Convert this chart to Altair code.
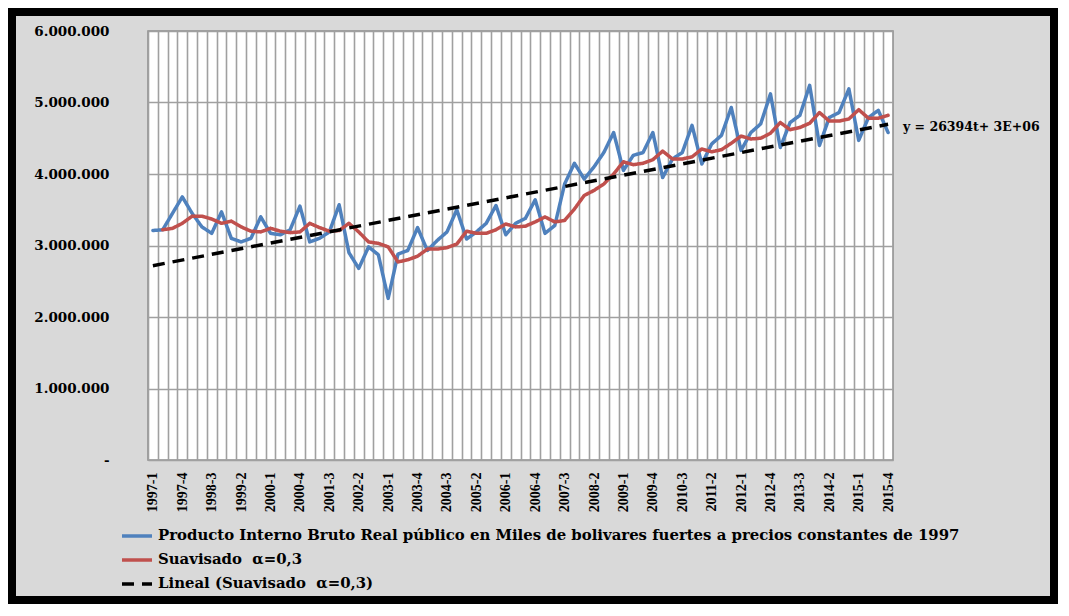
import json
import altair as alt
import pandas as pd

# ---------------- data (values in millions) ----------------
tick_labels = ["1997-1", "1997-4", "1998-3", "1999-2", "2000-1", "2000-4", "2001-3",
               "2002-2", "2003-1", "2003-4", "2004-3", "2005-2", "2006-1", "2006-4",
               "2007-3", "2008-2", "2009-1", "2009-4", "2010-3", "2011-2", "2012-1",
               "2012-4", "2013-3", "2014-2", "2015-1", "2015-4"]

pib = [3.21, 3.22, 3.45, 3.68, 3.45, 3.26, 3.17, 3.47, 3.10, 3.05,
       3.10, 3.40, 3.17, 3.15, 3.22, 3.55, 3.05, 3.10, 3.19, 3.57,
       2.90, 2.68, 2.98, 2.87, 2.26, 2.88, 2.93, 3.25, 2.93, 3.07,
       3.19, 3.50, 3.09, 3.19, 3.31, 3.56, 3.15, 3.31, 3.38, 3.64,
       3.17, 3.28, 3.86, 4.15, 3.93, 4.10, 4.30, 4.58, 4.05, 4.26,
       4.30, 4.58, 3.95, 4.21, 4.30, 4.68, 4.14, 4.42, 4.54, 4.93,
       4.33, 4.58, 4.70, 5.12, 4.37, 4.72, 4.82, 5.24, 4.40, 4.79,
       4.86, 5.19, 4.47, 4.79, 4.89, 4.58]

suavisado = [None, 3.22, 3.24, 3.31, 3.41, 3.41, 3.37, 3.31, 3.34, 3.26,
             3.20, 3.19, 3.24, 3.20, 3.18, 3.19, 3.31, 3.25, 3.20, 3.21,
             3.31, 3.19, 3.05, 3.03, 2.98, 2.77, 2.80, 2.85, 2.95, 2.95,
             2.97, 3.02, 3.20, 3.17, 3.17, 3.22, 3.30, 3.26, 3.27, 3.33,
             3.40, 3.33, 3.35, 3.51, 3.70, 3.77, 3.86, 4.00, 4.17, 4.13,
             4.15, 4.20, 4.32, 4.21, 4.21, 4.24, 4.35, 4.31, 4.34, 4.43,
             4.53, 4.49, 4.50, 4.57, 4.72, 4.62, 4.65, 4.71, 4.86, 4.74,
             4.74, 4.77, 4.90, 4.78, 4.78, 4.82]

NBSP = "\u00a0"
series_names = [
    "Producto Interno Bruto Real público en Miles de bolivares fuertes a precios constantes de 1997",
    "Suavisado" + NBSP + NBSP + "α=0,3",
    "Lineal (Suavisado" + NBSP + NBSP + "α=0,3)",
]
series_colors = ["#4f81bd", "#c0504d", "#000000"]
series_dashes = [[1, 0], [1, 0], [12, 8]]
trend_label = "y = 26394t+ 3E+06"
y_ticks = [0, 1000000, 2000000, 3000000, 4000000, 5000000, 6000000]

MILLION = 1_000_000
rows = []
for i, v in enumerate(pib):
    rows.append({"i": i, "valor": v * MILLION, "serie": series_names[0]})
for i, v in enumerate(suavisado):
    if v is not None:
        rows.append({"i": i, "valor": v * MILLION, "serie": series_names[1]})
long_df = pd.DataFrame(rows)
wide_df = pd.DataFrame({"i": list(range(len(suavisado))),
                        "suav": [v * MILLION if v is not None else None for v in suavisado]})
one_row = pd.DataFrame({"a": [0]})

n = len(pib)
FONT = "DejaVu Serif"
GRID = "#a0a0a0"

label_arr = json.dumps(tick_labels)
x_axis = alt.Axis(
    values=[k - 0.5 for k in range(n)],
    grid=True, gridColor=GRID, gridWidth=1.6,
    ticks=False, domain=False, title=None,
    labelExpr=f"(datum.value + 0.5) % 3 == 0 ? {label_arr}[(datum.value + 0.5) / 3] : ''",
    labelAngle=-90, labelOffset=4.9, labelPadding=12,
    labelOverlap=False, labelFlush=False, labelBound=False,
    labelFont="Liberation Serif", labelFontWeight="bold", labelFontSize=14,
    labelColor="black",
)
zero_label = "-" + "\u2007" * 2
y_axis = alt.Axis(
    values=y_ticks,
    grid=True, gridColor=GRID, gridWidth=1.6,
    ticks=False, domain=False, title=None,
    labelExpr=("datum.value == 0 ? " + json.dumps(zero_label, ensure_ascii=False) +
               " : replace(replace(format(datum.value, ','), ',', '.'), ',', '.')"),
    labelPadding=39, labelFont=FONT, labelFontWeight="bold", labelFontSize=13.5,
    labelColor="black",
)
x_enc = alt.X("i:Q", scale=alt.Scale(domain=[-0.5, n - 0.5], nice=False, zero=False), axis=x_axis)
y_scale = alt.Scale(domain=[0, 6 * MILLION], nice=False)

legend = alt.Legend(
    title=None, orient="none", legendX=-28, legendY=488, direction="vertical",
    symbolType="stroke", symbolSize=900, symbolStrokeWidth=3.5,
    labelFont=FONT, labelFontWeight="bold", labelFontSize=14.9, labelColor="black",
    labelLimit=1000, rowPadding=-3, labelOffset=4, padding=0,
)
color_enc = alt.Color("serie:N", scale=alt.Scale(domain=series_names, range=series_colors), legend=legend)
dash_enc = alt.StrokeDash("serie:N", scale=alt.Scale(domain=series_names, range=series_dashes), legend=legend)

lines = alt.Chart(long_df).mark_line(strokeWidth=3.5, strokeJoin="round", strokeCap="round").encode(
    x=x_enc,
    y=alt.Y("valor:Q", scale=y_scale, axis=y_axis),
    color=color_enc,
    strokeDash=dash_enc,
    detail="serie:N",
)

trend = (
    alt.Chart(wide_df)
    .transform_filter("isValid(datum.suav)")
    .transform_regression("i", "suav", extent=[0, n - 1])
    .transform_calculate(serie=json.dumps(series_names[2]))
    .mark_line(strokeWidth=3.5)
    .encode(
        x=x_enc,
        y=alt.Y("suav:Q", scale=y_scale, axis=y_axis),
        color=color_enc,
        strokeDash=dash_enc,
    )
)

eq_text = alt.Chart(one_row).mark_text(
    text=trend_label, align="left", baseline="middle",
    font=FONT, fontWeight="bold", fontSize=12.5, color="black",
).encode(x=alt.value(755), y=alt.value(96))

border = alt.Chart(one_row).mark_rect(
    fillOpacity=0, stroke="black", strokeWidth=8,
).encode(x=alt.value(-136), x2=alt.value(906), y=alt.value(-19), y2=alt.value(569))

chart = (
    alt.layer(border, lines, trend, eq_text)
    .properties(
        width=745, height=429,
        padding={"left": 140, "top": 23, "right": 165, "bottom": 144},
        autosize=alt.AutoSizeParams(type="none"),
        background="#d9d9d9",
    )
    .configure_view(fill="white", stroke="#8c8c8c", strokeWidth=1.5)
)

chart.save("out.html", embed_options={"renderer": "svg", "actions": False})
